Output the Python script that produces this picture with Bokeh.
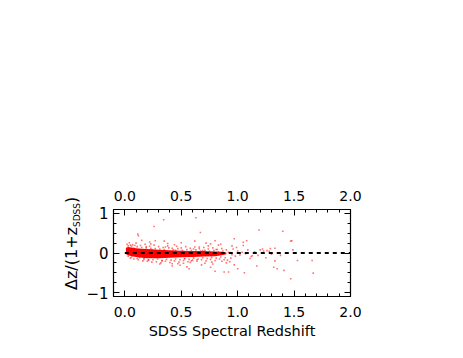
from bokeh.plotting import figure
from bokeh.models import LinearAxis, SingleIntervalTicker, Div
from bokeh.layouts import row
from bokeh.embed import file_html
from bokeh.resources import INLINE

# ---- data ----
# dense core of the distribution (envelope)
core_z  = [0.01, 0.03, 0.06, 0.10, 0.15, 0.20, 0.30, 0.40, 0.50, 0.60, 0.70, 0.80, 0.86, 0.90]
core_hi = [0.13, 0.15, 0.14, 0.12, 0.11, 0.10, 0.08, 0.07, 0.06, 0.05, 0.05, 0.04, 0.03, 0.01]
core_lo = [-0.03, -0.06, -0.08, -0.10, -0.12, -0.13, -0.13, -0.12, -0.11, -0.10, -0.09, -0.08, -0.06, -0.03]

# scattered individual galaxies
pts_z = [
    0.02, 0.03, 0.04, 0.05, 0.06, 0.07, 0.03, 0.05, 0.06, 0.08, 0.09, 0.10, 0.11, 0.12, 0.13,
    0.14, 0.15, 0.16, 0.17, 0.18, 0.19, 0.20, 0.21, 0.22, 0.23, 0.24, 0.25, 0.26, 0.27, 0.28,
    0.29, 0.30, 0.31, 0.32, 0.33, 0.34, 0.35, 0.36, 0.37, 0.38, 0.39, 0.40, 0.41, 0.42, 0.43,
    0.44, 0.45, 0.46, 0.47, 0.48, 0.49, 0.50, 0.51, 0.52, 0.53, 0.54, 0.55, 0.56, 0.57, 0.58,
    0.59, 0.60, 0.61, 0.62, 0.63, 0.64, 0.65, 0.66, 0.67, 0.68, 0.69, 0.70, 0.71, 0.72, 0.73,
    0.74, 0.75, 0.76, 0.77, 0.78, 0.79, 0.80, 0.81, 0.82, 0.83, 0.84, 0.85, 0.86, 0.87, 0.88,
    0.89, 0.90, 0.92, 0.94, 0.96, 0.98, 1.00,
    0.15, 0.22, 0.35, 0.42, 0.50, 0.55, 0.62, 0.68, 0.72, 0.78, 0.85, 0.90, 0.95, 0.97, 0.99,
    1.02, 1.04, 1.07, 1.09, 1.12, 1.15, 1.18, 1.22, 1.25, 1.28, 1.30, 1.33,
    0.345, 0.63, 0.115, 0.26, 1.19, 1.40, 1.47, 1.48, 1.38, 1.53, 1.47, 1.67, 1.35, 1.00,
    0.88, 0.80, 1.05, 1.05, 1.66, 1.41, 1.06, 1.32, 1.33, 1.17, 1.20, 1.11, 1.23, 1.29, 1.49,
    0.12, 0.27, 0.23, 0.67, 0.76, 0.80, 0.97, 1.08, 0.57, 0.76, 0.92, 0.49, 0.42, 0.53, 0.59,
    0.17, 0.21, 0.44, 0.31, 0.58, 0.71, 0.83, 0.93, 0.66, 0.38, 0.47, 0.74, 0.86, 1.13, 1.26,
    0.08, 0.11, 0.19, 0.24, 0.33, 0.36, 0.45, 0.52, 0.61, 0.64, 0.69, 0.77, 0.81, 0.91, 0.95,
]
pts_dz = [
    0.22, 0.18, 0.26, 0.20, 0.17, 0.21, -0.08, -0.13, -0.10, -0.15, 0.19, 0.25, 0.16, -0.17, -0.12,
    0.19, 0.14, -0.20, -0.16, 0.22, 0.13, -0.21, -0.18, 0.17, 0.12, -0.23, -0.17, 0.20, 0.11, -0.22,
    -0.15, 0.16, 0.10, -0.25, -0.19, 0.14, 0.09, -0.21, -0.16, 0.18, 0.13, -0.24, -0.18, 0.12, 0.08,
    -0.20, -0.15, 0.17, 0.11, -0.23, -0.17, 0.13, 0.07, -0.19, -0.14, 0.16, 0.09, -0.22, -0.16, 0.12,
    0.06, -0.18, -0.13, 0.15, 0.08, -0.21, -0.15, 0.11, 0.05, -0.17, -0.12, 0.14, 0.07, -0.20, -0.14,
    0.10, 0.04, -0.16, -0.11, 0.13, 0.06, -0.19, -0.13, 0.09, 0.03, -0.15, -0.10, 0.11, 0.05, -0.17,
    -0.12, 0.08, 0.02, -0.13, 0.10, -0.08, 0.05,
    0.32, 0.28, 0.30, -0.33, 0.26, -0.35, 0.30, -0.30, 0.25, -0.28, 0.22, -0.25, 0.18, -0.30, 0.14,
    -0.05, 0.02, -0.02, 0.08, -0.09, 0.03, -0.06, 0.10, -0.12, 0.04, -0.03, 0.12,
    0.84, 0.89, 0.48, 0.67, 0.58, 0.55, 0.30, 0.31, -0.06, -0.19, -0.65, -0.51, -0.40, -0.40,
    -0.48, -0.46, 0.27, 0.19, -0.19, -0.44, -0.50, -0.36, -0.20, -0.33, 0.08, -0.14, 0.05, 0.11, 0.08,
    0.44, 0.31, 0.23, 0.52, 0.23, 0.31, 0.36, 0.31, -0.40, -0.36, -0.48, -0.31, -0.27, -0.15, -0.20,
    -0.13, -0.17, 0.21, -0.28, -0.24, -0.26, 0.20, -0.22, 0.15, 0.24, -0.27, 0.18, -0.21, -0.07, 0.06,
    0.12, -0.14, 0.16, 0.09, -0.20, 0.15, 0.07, -0.26, 0.10, -0.17, 0.06, -0.23, 0.09, -0.18, -0.04,
]

ref_z = [0.0, 2.0]
ref_dz = [0.0, 0.0]

x_major_labels = {0: "0.0", 0.5: "0.5", 1: "1.0", 1.5: "1.5", 2: "2.0"}
y_major_labels = {-1: "\u22121", 0: "0", 1: "1"}
y_title_main, y_title_sub, y_title_end = "\u0394z/(1+z", "SDSS", ")"

H = 342
LW = 60   # width of the strip holding the rotated y title

# ---- main plot ----
p = figure(width=447 - LW, height=H, x_range=(-0.1, 2.0), y_range=(-1.1, 1.1),
           output_backend="svg", toolbar_location=None,
           x_axis_location=None, y_axis_location=None,
           min_border_left=113 - LW, min_border_top=209,
           min_border_right=447 - 350, min_border_bottom=H - 296)
p.outline_line_color = "black"
p.outline_line_width = 1.2
p.background_fill_color = "white"
p.border_fill_color = None
p.grid.grid_line_color = None

def style_axis(ax, size):
    ax.axis_line_color = None
    ax.major_tick_out = 0
    ax.minor_tick_out = 0
    ax.major_tick_in = 6
    ax.minor_tick_in = 3
    ax.major_tick_line_color = "black"
    ax.minor_tick_line_color = "black"
    ax.major_tick_line_width = 1
    ax.minor_tick_line_width = 1
    ax.major_label_text_font = "DejaVu Sans"
    ax.major_label_text_font_size = size
    ax.major_label_text_color = "black"

for loc in ["below", "above"]:
    ax = LinearAxis(ticker=SingleIntervalTicker(interval=0.5, num_minor_ticks=5))
    style_axis(ax, "14px")
    ax.major_label_overrides = x_major_labels
    if loc == "below":
        ax.major_label_standoff = 10
        ax.axis_label = "SDSS Spectral Redshift"
        ax.axis_label_text_font = "DejaVu Sans"
        ax.axis_label_text_font_size = "14.5px"
        ax.axis_label_text_font_style = "normal"
        ax.axis_label_text_color = "black"
        ax.axis_label_standoff = 3
    else:
        ax.major_label_standoff = 9
    p.add_layout(ax, loc)

for loc in ["left", "right"]:
    ax = LinearAxis(ticker=SingleIntervalTicker(interval=1, num_minor_ticks=4))
    style_axis(ax, "15px")
    ax.major_label_overrides = y_major_labels
    ax.major_label_standoff = 5
    ax.major_label_orientation = "horizontal"
    if loc == "right":
        ax.major_label_text_color = None
    p.add_layout(ax, loc)

p.varea(x=core_z, y1=core_lo, y2=core_hi, fill_color="#ff0000", fill_alpha=1.0)
p.scatter(pts_z, pts_dz, marker="square", size=1.6, color="#ff0000", alpha=0.55, line_width=0)
p.line(ref_z, ref_dz, line_color="black", line_dash="4 4", line_width=1.8)

# ---- rotated y title  Δz/(1+z_SDSS) as real HTML text ----
title_html = (
    '<div style="position:absolute; left:64px; top:290px; transform-origin:0 0; '
    'transform:rotate(-90deg); white-space:nowrap; font-family:\'DejaVu Sans\'; '
    'font-size:16px; line-height:16px; color:black;">'
    f'{y_title_main}<span style="font-size:9px; position:relative; top:3px;">{y_title_sub}</span>{y_title_end}'
    '</div>'
)
t = Div(text=title_html, width=LW, height=H, margin=0,
        styles={"position": "relative", "overflow": "visible"})

layout = row(t, p, spacing=0)
open("out.html", "w").write(file_html(layout, INLINE))
